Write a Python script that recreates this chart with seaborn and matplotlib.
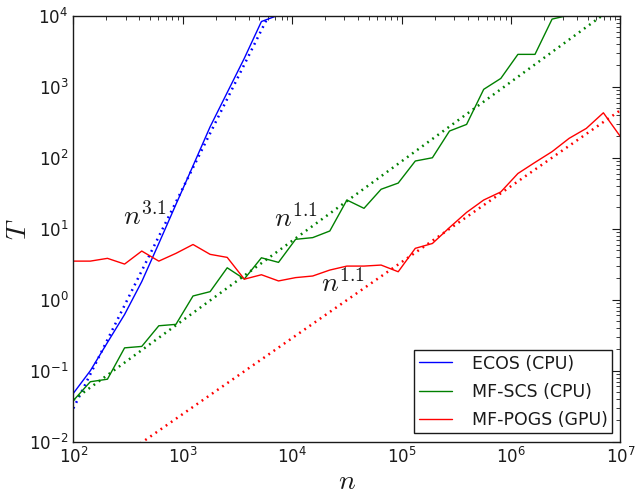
import numpy as np
import pandas as pd
import matplotlib
matplotlib.use('Agg')
import matplotlib.pyplot as plt
import seaborn as sns

# problem sizes (log-spaced, 1e2 .. 1e7)
n_vals = [100, 143, 205, 294, 422, 604, 866, 1241, 1778, 2548, 3652, 5233, 7499,
          10746, 15399, 22067, 31623, 45316, 64938, 93057, 133352, 191095, 273842,
          392418, 562341, 805842, 1154782, 1654817, 2371374, 3398208, 4869675,
          6978306, 10000000]

# solve times
ecos_t = [0.048, 0.10, 0.25, 0.62, 1.8, 6.2, 22, 77, 273, 830, 2520, 8300, 10200]
scs_t = [0.038, 0.070, 0.076, 0.21, 0.22, 0.43, 0.45, 1.13, 1.30, 2.82, 1.96, 3.9,
         3.36, 7.1, 7.5, 9.3, 25.4, 19.4, 36, 44, 90, 100, 238, 295, 920, 1310,
         2860, 2860, 8980, 10200]
pogs_t = [3.5, 3.5, 3.83, 3.18, 4.85, 3.5, 4.5, 6.0, 4.36, 3.95, 1.95, 2.25, 1.84,
          2.05, 2.16, 2.62, 2.98, 2.98, 3.08, 2.48, 5.3, 6.2, 10.4, 17, 25.4, 33,
          60, 86, 122, 188, 259, 430, 198]

solvers = ['ECOS (CPU)', 'MF-SCS (CPU)', 'MF-POGS (GPU)']
colors = ['#0000ff', '#008000', '#ff0000']

# power-law fits: T = t100 * (n/100)^p
fit_exp = [3.1, 1.12, 1.07]
fit_t100 = [0.0295, 0.0389, 0.00209]

sns.set_theme(style='white', rc={'text.color': 'k', 'axes.labelcolor': 'k',
                                 'xtick.color': 'k', 'ytick.color': 'k'})
plt.rcParams['font.family'] = ['DejaVu Sans']
plt.rcParams['lines.scale_dashes'] = False

frames = []
for name, vals in zip(solvers, [ecos_t, scs_t, pogs_t]):
    frames.append(pd.DataFrame({'n': n_vals[:len(vals)], 'T': vals, 'solver': name}))
df = pd.concat(frames, ignore_index=True)

fig = plt.figure(figsize=(6.36, 4.93), dpi=100)
ax = fig.add_axes([0.1153, 0.104, 0.8603, 0.864])
ax.set_xscale('log')
ax.set_yscale('log')

n_arr = np.array(n_vals, dtype=float)
for c, p, t0 in zip(colors, fit_exp, fit_t100):
    sns.lineplot(x=n_arr, y=t0 * (n_arr / 100.0) ** p, color=c,
                 linestyle=(0, (1.3, 3.2)), lw=1.8, ax=ax)

sns.lineplot(data=df, x='n', y='T', hue='solver', hue_order=solvers,
             palette=dict(zip(solvers, colors)), estimator=None, lw=1.0, ax=ax)

ax.set_xlim(1e2, 1e7)
ax.set_ylim(1e-2, 1e4)

ax.tick_params(which='both', direction='in', top=True, right=True,
               labelsize=12, color='k', labelcolor='k')
ax.tick_params(which='major', length=5.5, width=0.8)
ax.tick_params(which='minor', length=2.8, width=0.6)
for sp in ax.spines.values():
    sp.set_color('k')
    sp.set_linewidth(1.0)

ax.set_xlabel('$n$', fontsize=20, math_fontfamily='cm', labelpad=0)
ax.set_ylabel('$T$', fontsize=20, math_fontfamily='cm')
ax.yaxis.set_label_coords(-0.076, 0.5)

ax.text(285, 11.3, '$n^{3.1}$', fontsize=20, math_fontfamily='cm')
ax.text(6840, 10.6, '$n^{1.1}$', fontsize=20, math_fontfamily='cm')
ax.text(18370, 1.30, '$n^{1.1}$', fontsize=20, math_fontfamily='cm')

sns.move_legend(ax, 'lower right', title=None, frameon=True, fontsize=12.5,
                fancybox=False, framealpha=1, edgecolor='k',
                handlelength=1.95, handletextpad=1.1, borderpad=0.25,
                labelspacing=0.58, borderaxespad=0.5)
leg = ax.get_legend()
leg.get_frame().set_linewidth(1.0)
for t in leg.get_texts():
    t.set_color('k')

fig.savefig('out.png', dpi=100, facecolor='white')
